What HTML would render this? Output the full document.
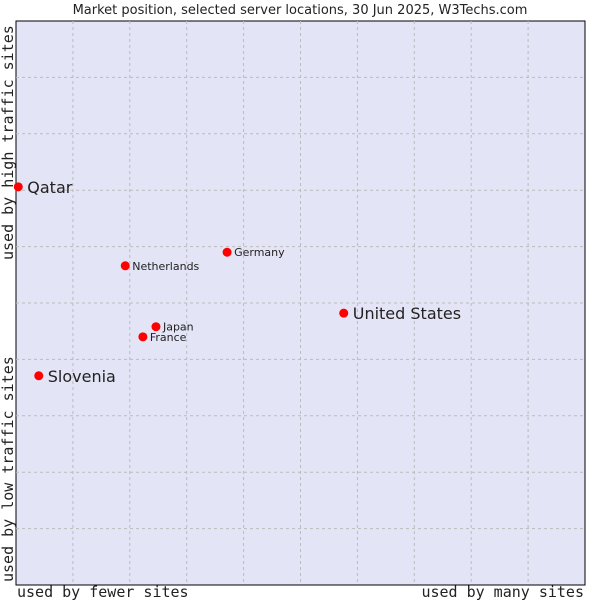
<!DOCTYPE html>
<html><head><meta charset="utf-8"><style>
body{margin:0;background:#fff;width:600px;height:600px;overflow:hidden}
svg text{font-family:"DejaVu Sans","Liberation Sans",sans-serif;fill:#222}
.mono{font-family:"DejaVu Sans Mono","Liberation Mono",monospace}
</style></head><body>
<svg id="chart" width="600" height="600">
<text x="300" y="14" text-anchor="middle" font-size="13">Market position, selected server locations, 30 Jun 2025, W3Techs.com</text>
<rect x="16" y="21" width="569" height="564" fill="#e4e4f7" stroke="#000" stroke-width="1"/>
<g id="grid"></g>
<g id="points"></g>
<text class="mono" x="17" y="597" font-size="15">used by fewer sites</text>
<text class="mono" x="584" y="597" font-size="15" text-anchor="end">used by many sites</text>
<text class="mono" transform="translate(13,260) rotate(-90)" font-size="15">used by high traffic sites</text>
<text class="mono" transform="translate(13,582) rotate(-90)" font-size="15">used by low traffic sites</text>
</svg>
<script>
const names=["Qatar","Slovenia","Netherlands","Germany","Japan","France","United States"];
const xVals=[0.04,0.40,1.92,3.71,2.46,2.23,5.76];
const yVals=[7.06,3.71,5.66,5.90,4.58,4.40,4.82];
const big=[true,true,false,false,false,false,true];
const ns="http://www.w3.org/2000/svg";
const X0=16,X1=585,Y0=585,Y1=21;
const sx=v=>X0+(X1-X0)*v/10, sy=v=>Y0-(Y0-Y1)*v/10;
const grid=document.getElementById('grid');
for(let i=1;i<10;i++){
 let l=document.createElementNS(ns,'line');
 l.setAttribute('x1',sx(i));l.setAttribute('x2',sx(i));l.setAttribute('y1',Y1);l.setAttribute('y2',Y0);
 l.setAttribute('stroke','#bbb');l.setAttribute('stroke-dasharray','3,3');
 
 
 grid.appendChild(l);
 let m=document.createElementNS(ns,'line');
 m.setAttribute('y1',sy(i));m.setAttribute('y2',sy(i));m.setAttribute('x1',X0);m.setAttribute('x2',X1);
 m.setAttribute('stroke','#bbb');m.setAttribute('stroke-dasharray','3,3');
 
 
 grid.appendChild(m);
}
const pts=document.getElementById('points');
names.forEach((n,i)=>{
 const x=sx(xVals[i]),y=sy(yVals[i]);
 let c=document.createElementNS(ns,'circle');
 c.setAttribute('cx',x);c.setAttribute('cy',y);c.setAttribute('r',4.5);c.setAttribute('fill','#f00');
 
 
 pts.appendChild(c);
 let t=document.createElementNS(ns,'text');
 t.setAttribute('x',x+(big[i]?9:7));t.setAttribute('y',y+(big[i]?6:4));
 t.setAttribute('font-size',big[i]?16:11);
 t.textContent=n;
 
 
 pts.appendChild(t);
});
</script>
</body></html>
